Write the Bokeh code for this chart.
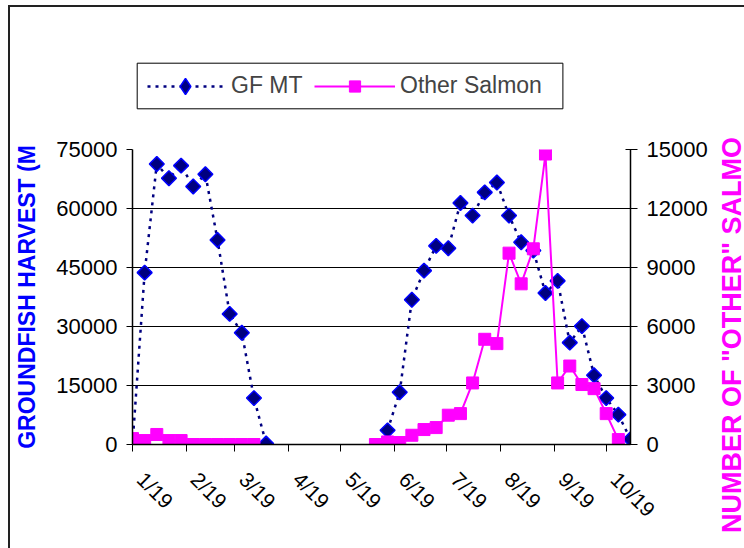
import numpy as np
import pandas as pd
from bokeh.plotting import figure
from bokeh.models import (Range1d, LinearAxis, FixedTicker, Legend, LegendItem, Label,
                          BoxAnnotation)
from bokeh.embed import file_html
from bokeh.resources import INLINE

# ---------------- data ----------------
first_week = "2019-01-19"
n_weeks = 42
# Groundfish harvest (MT), weekly; None = no fishing
gf_mt = [0, 43700, 71300, 67700, 70900, 65600, 68700, 52000, 33200, 28400, 11800, 250,
         None, None, None, None, None, None, None, None, None,
         3600, 13300, 36800, 44200, 50500, 49900, 61400, 58200, 64100, 66600, 58200,
         51400, 49300, 38500, 41600, 25900, 30100, 17600, 11800, 7600, 1350]
# Number of "other" salmon, weekly
other_salmon = [300, 200, 510, 200, 200, 0, 0, 0, 0, 0, 0,
                None, None, None, None, None, None, None, None, None,
                0, 130, 100, 470, 760, 860, 1490, 1570, 3130, 5350, 5130, 9730,
                8170, 9950, 14770, 3130, 3990, 3050, 2840, 1570, 250,
                None]
tick_dates = ["2019-01-19", "2019-02-19", "2019-03-19", "2019-04-19", "2019-05-19",
              "2019-06-19", "2019-07-19", "2019-08-19", "2019-09-19", "2019-10-19"]
gf_ticks = [0, 15000, 30000, 45000, 60000, 75000]
salmon_ticks = [0, 3000, 6000, 9000, 12000, 15000]

# ---------------- derived ----------------
t0 = pd.Timestamp(first_week)
dates = pd.date_range(first_week, periods=n_weeks, freq="7D")
x = np.array([(d - t0).days for d in dates], dtype=float)
y_gf = np.array([np.nan if v is None else v for v in gf_mt], dtype=float)
y_os = np.array([np.nan if v is None else v for v in other_salmon], dtype=float)
tick_ts = [pd.Timestamp(s) for s in tick_dates]
tick_x = [float((d - t0).days) for d in tick_ts]
NB = "\u00a0"
tick_labels = {tx: NB * 2 + f"{d.month}/{d.day}" for tx, d in zip(tick_x, tick_ts)}

FONT = "Liberation Sans"
BORDER = "#222222"
W, H = 744, 548
ML, MT, MB = 132, 149, 104
FRAME_W = 498
MR = W - ML - FRAME_W

GF_LINE = dict(line_color="#000080", line_width=2.5, line_dash="3 5")
GF_FILL = dict(fill_color="#000080", line_color="#0000FF", line_width=1.5)
OS_LINE = dict(line_color="#FF00FF", line_width=2)
OS_FILL = dict(fill_color="#FF00FF", line_color="#FF00FF")

p = figure(width=W, height=H, output_backend="svg", toolbar_location=None,
           x_range=Range1d(x[0], x[-1]), y_range=Range1d(0, 75000),
           min_border_left=ML, min_border_right=MR, min_border_top=MT, min_border_bottom=MB)
p.extra_y_ranges = {"salmon": Range1d(0, 15000)}
p.outline_line_color = None
p.background_fill_color = "white"
p.border_fill_color = None
p.styles = {"background": (f"linear-gradient({BORDER},{BORDER}) 8px 5px / 2px calc(100% - 5px) no-repeat, "
                           f"linear-gradient({BORDER},{BORDER}) 8px 5px / calc(100% - 8px) 2px no-repeat, #ffffff")}

# axes
p.xaxis.ticker = FixedTicker(ticks=tick_x)
p.xaxis.major_label_overrides = tick_labels
p.xaxis.major_label_orientation = -np.pi / 4
p.xaxis.major_tick_out = 7
p.xaxis.major_tick_in = 0
p.xaxis.minor_tick_line_color = None
p.xaxis.major_label_standoff = 16
p.xaxis.major_label_text_font = FONT
p.xaxis.major_label_text_font_size = "21px"
p.xaxis.major_label_text_color = "black"
p.xaxis.axis_line_width = 1.5
p.xaxis.axis_line_color = "black"
p.xaxis.major_tick_line_color = "black"

p.yaxis.ticker = FixedTicker(ticks=gf_ticks)
p.yaxis.major_tick_out = 6
p.yaxis.major_tick_in = 0
p.yaxis.minor_tick_line_color = None
p.yaxis.major_label_standoff = 9
p.yaxis.major_label_text_font = FONT
p.yaxis.major_label_text_font_size = "22px"
p.yaxis.major_label_text_color = "black"
p.yaxis.axis_line_width = 1.5
p.yaxis.axis_line_color = "black"
p.yaxis.major_tick_line_color = "black"
p.yaxis.axis_label = "GROUNDFISH HARVEST (M"
p.yaxis.axis_label_standoff = 13
p.yaxis.axis_label_text_font = FONT
p.yaxis.axis_label_text_font_style = "bold"
p.yaxis.axis_label_text_font_size = "23px"
p.yaxis.axis_label_text_color = "#0000FF"

ax2 = LinearAxis(y_range_name="salmon", ticker=FixedTicker(ticks=salmon_ticks))
ax2.major_tick_out = 7
ax2.major_tick_in = 5
ax2.minor_tick_line_color = None
ax2.major_label_standoff = 9
ax2.major_label_text_font = FONT
ax2.major_label_text_font_size = "22px"
ax2.major_label_text_color = "black"
ax2.axis_line_width = 1.5
ax2.axis_line_color = "black"
ax2.major_tick_line_color = "black"
p.add_layout(ax2, "right")

p.xgrid.visible = False
p.ygrid.ticker = FixedTicker(ticks=gf_ticks)
p.ygrid.grid_line_color = "black"
p.ygrid.grid_line_width = 1

# series
p.line(x, y_gf, **GF_LINE)
p.scatter(x, y_gf, marker="square", angle=np.pi / 4, size=10.5, **GF_FILL)
p.line(x, y_os, y_range_name="salmon", **OS_LINE)
p.scatter(x, y_os, marker="square", size=12, y_range_name="salmon", **OS_FILL)


def overlay(width, height, left, top, y_range=None):
    f = figure(width=width, height=height, output_backend="svg", toolbar_location=None,
               x_range=Range1d(0, width), y_range=y_range or Range1d(0, height),
               x_axis_location=None, y_axis_location=None,
               min_border_left=0, min_border_right=0, min_border_top=0, min_border_bottom=0)
    f.grid.visible = False
    f.outline_line_color = None
    f.background_fill_color = None
    f.border_fill_color = None
    f.styles = {"position": "absolute", "left": f"{left}px", "top": f"{top}px",
                "background": "transparent"}
    return f


# legend, drawn in an overlay panel above the plot area; the series are repeated
# there with a y-range well below all values, so only their legend samples show
LW, LH, LX, LY = 440, 60, 130, 56
Y0 = -LH - 20
lf = overlay(LW, LH, LX, LY, y_range=Range1d(Y0, Y0 + LH))
r1 = lf.line(x, y_gf, **GF_LINE)
r2 = lf.scatter(x, y_gf, marker="diamond", **GF_FILL)
r3 = lf.line(x, y_os, **OS_LINE)
r4 = lf.scatter(x, y_os, marker="square", **OS_FILL)

BOX_L, BOX_R, BOX_B, BOX_T = 6.7, 432.4, 7.7, 53.3
lf.add_layout(BoxAnnotation(left=BOX_L, right=BOX_R, bottom=Y0 + BOX_B, top=Y0 + BOX_T,
                            fill_color="white", fill_alpha=1,
                            line_color="black", line_width=1, line_alpha=1))
BOX_MID = (BOX_B + BOX_T) / 2


def make_legend(label, renderers, left, glyph_w, glyph_h, standoff):
    lg = Legend(items=[LegendItem(label=label, renderers=renderers)],
                orientation="horizontal", location=(left, BOX_MID - glyph_h / 2))
    lg.label_text_font = FONT
    lg.label_text_font_size = "23px"
    lg.glyph_width = glyph_w
    lg.glyph_height = glyph_h
    lg.label_standoff = standoff
    lg.padding = 0
    lg.margin = 0
    lg.border_line_color = None
    lg.background_fill_alpha = 0
    return lg


lf.add_layout(make_legend("GF MT", [r1, r2], 17, 76, 40, 8))
lf.add_layout(make_legend("Other Salmon", [r3, r4], 184, 81, 28, 5))

# right-hand title (overlay panel at the right edge)
SW, SX = 30, 714
sf = overlay(SW, H, SX, 0)
sf.add_layout(Label(x=17.7, y=15.5, angle=np.pi / 2,
                    text='NUMBER OF "OTHER" SALMO', text_align="left", text_baseline="middle",
                    text_font=FONT, text_font_style="bold", text_font_size="27px",
                    text_color="#FF00FF"))

open("out.html", "w").write(file_html([p, lf, sf], INLINE))
